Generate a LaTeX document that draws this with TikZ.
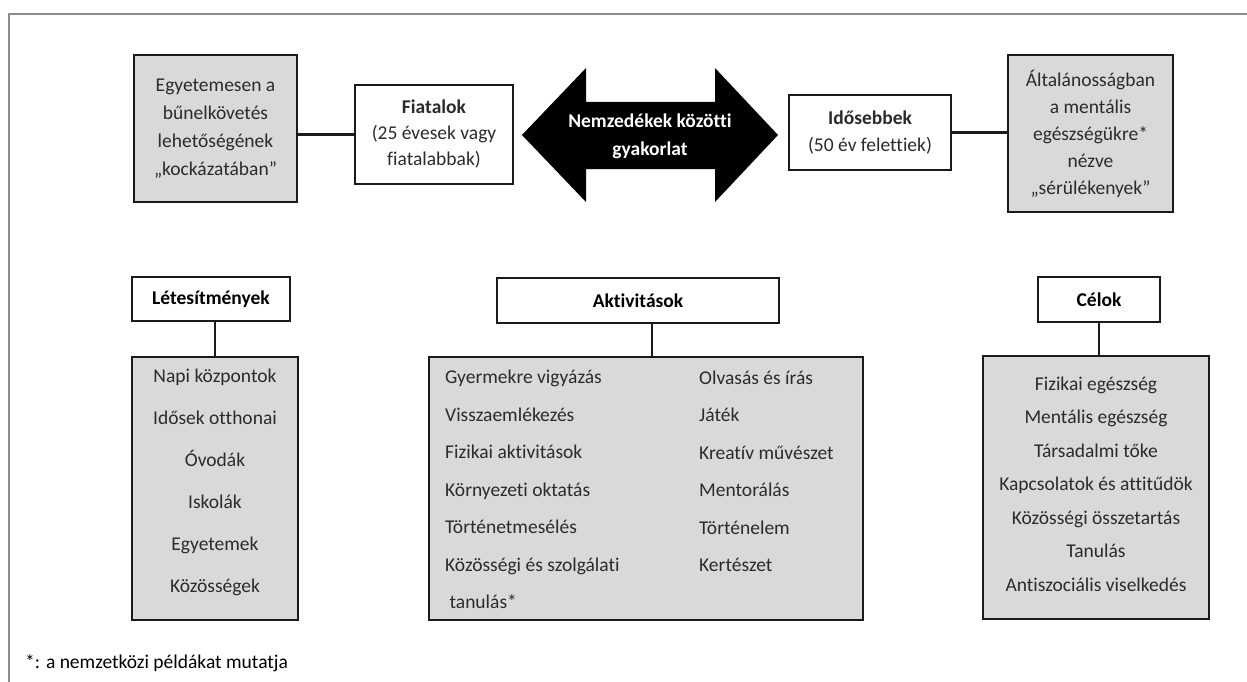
\documentclass[tikz,border=0pt]{standalone}
\usepackage{fontspec}
\setmainfont{Carlito}[RawFeature={-liga;-dlig;-clig}]
\definecolor{boxgray}{HTML}{D9D9D9}
\definecolor{frame}{HTML}{1A1A1A}
\definecolor{txt}{HTML}{2B2B2B}
\definecolor{border}{HTML}{8C8C8C}
\tikzset{
  sbox/.style={draw=frame, line width=2.2pt, inner sep=0pt, align=center, text=txt},
  gbox/.style={sbox, fill=boxgray},
  wbox/.style={sbox, fill=white},
  conn/.style={draw=frame, line width=2.2pt},
  lst/.style={inner sep=0pt, text=txt},
}
\begin{document}
\begin{tikzpicture}[x=1pt,y=-1pt]
\useasboundingbox (0,0) rectangle (1247,682);
\fill[white] (0,0) rectangle (1247,682);
\draw[border, line width=1.5pt] (1247,14) -- (9,14) -- (9,682);

% top row
\node[gbox, minimum width=163pt, minimum height=147pt, font=\fontsize{19.5}{28}\selectfont]
  (lg) at (215.5,128.5) {Egyetemesen a\\bűnelkövetés\\lehetőségének\\„kockázatában”};
\node[wbox, minimum width=158pt, minimum height=99pt, font=\fontsize{19.5}{26}\selectfont]
  (fiat) at (434,134.5) {\textbf{Fiatalok}\\(25 évesek vagy\\fiatalabbak)};
\node[wbox, minimum width=162pt, minimum height=75pt, font=\fontsize{19.5}{27}\selectfont]
  (ido) at (870,132.5) {\textbf{Idősebbek}\\(50 év felettiek)};
\node[gbox, minimum width=165pt, minimum height=157pt, font=\fontsize{19.5}{27}\selectfont]
  (rg) at (1090.5,133.5) {Általánosságban\\a mentális\\egészségükre*\\nézve\\„sérülékenyek”};

\fill[black] (522,135) -- (586,68) -- (586,102) -- (715,102) -- (715,68) -- (778,135)
  -- (715,202) -- (715,169) -- (586,169) -- (586,202) -- cycle;
\node[inner sep=0pt, align=center, text=white, font=\bfseries\fontsize{19.5}{28}\selectfont]
  (arr) at (650,136) {Nemzedékek közötti\\gyakorlat};

\draw[conn] (fiat.west) -- (fiat.west -| lg.east);
\draw[conn] (ido.east) -- (ido.east -| rg.west);

% bottom row headers
\node[wbox, text=black, minimum width=158pt, minimum height=44pt, font=\bfseries\fontsize{19.5}{24}\selectfont]
  (lethead) at (211,299) {Létesítmények};
\node[wbox, text=black, minimum width=282pt, minimum height=45pt, font=\bfseries\fontsize{19.5}{24}\selectfont]
  (akthead) at (638,300.5) {Aktivitások};
\node[wbox, text=black, minimum width=122pt, minimum height=45pt, font=\bfseries\fontsize{19.5}{24}\selectfont]
  (celhead) at (1099,299.5) {Célok};

% bottom row boxes
\node[gbox, minimum width=166pt, minimum height=263pt] (letbox) at (215,488.5) {};
\node[gbox, minimum width=434pt, minimum height=263pt] (aktbox) at (646,488.5) {};
\node[gbox, minimum width=226pt, minimum height=263pt] (celbox) at (1096,487.5) {};

\coordinate (aktx) at (652,0);
\draw[conn] (letbox.north) -- (letbox.north |- lethead.south);
\draw[conn] (aktx |- aktbox.north) -- (aktx |- akthead.south);
\draw[conn] (celhead.south) -- (celhead.south |- celbox.north);

% lists
\node[lst, align=center, font=\fontsize{19.5}{42}\selectfont] (letlist) at (215,482)
  {Napi központok\\Idősek otthonai\\Óvodák\\Iskolák\\Egyetemek\\Közösségek};
\node[lst, align=left, anchor=west, font=\fontsize{19.5}{37.5}\selectfont] (aktl) at (445,489.5)
  {Gyermekre vigyázás\\Visszaemlékezés\\Fizikai aktivitások\\Környezeti oktatás\\Történetmesélés\\Közösségi és szolgálati\\\ tanulás*};
\node[lst, align=left, anchor=west, font=\fontsize{19.5}{37.5}\selectfont] (aktr) at (699,471.5)
  {Olvasás és írás\\Játék\\Kreatív művészet\\Mentorálás\\Történelem\\Kertészet};
\node[lst, align=center, font=\fontsize{19.5}{33.5}\selectfont] (cellist) at (1096,484)
  {Fizikai egészség\\Mentális egészség\\Társadalmi tőke\\Kapcsolatok és attitűdök\\Közösségi összetartás\\Tanulás\\Antiszociális viselkedés};

\node[inner sep=0pt, anchor=west, font=\fontsize{19.5}{24}\selectfont] (foot) at (25,663)
  {*: a nemzetközi példákat mutatja};
\end{tikzpicture}
\end{document}
